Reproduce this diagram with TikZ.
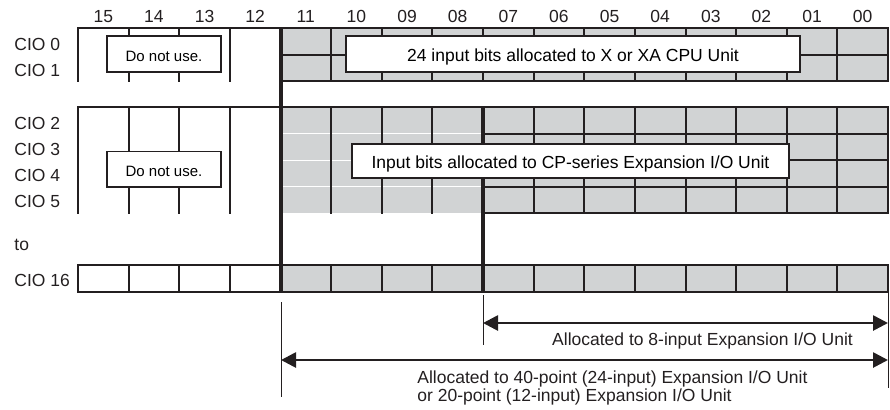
\documentclass[tikz,border=0pt]{standalone}
\usepackage{fontspec}
\setmainfont{Liberation Sans}
\usetikzlibrary{arrows.meta}
\definecolor{cellgray}{RGB}{209,211,212}
\definecolor{ink}{RGB}{35,31,32}
\tikzset{cell/.style={line width=1pt,draw=ink,line cap=rect},heavy/.style={line width=2pt,draw=ink},
txtbox/.style={draw=ink,line width=.7pt,fill=white,inner sep=0pt,text height=.72em,text depth=0pt},
ext/.style={line width=.5pt,draw=ink},
dim/.style={line width=1.35pt,draw=ink,{Triangle[length=7.5pt,width=7.5pt]}-{Triangle[length=7.5pt,width=7.5pt]}},
lbl/.style={inner sep=0pt,text=ink}}
\begin{document}
\begin{tikzpicture}[x=0.5pt,y=-0.5pt,font=\fontsize{8.75}{9}\selectfont]
\useasboundingbox(0,0)rectangle(890,409);
\foreach \b[count=\i from 0] in {15,14,13,12,11,10,09,08,07,06,05,04,03,02,01,00}
  \node[lbl,anchor=base](b\b)at({103.3+\i*50.625},22.7){\b};
% CIO 0 and 1
\fill[cellgray](280.5,28)rectangle(888,81);
\foreach \k in {0,...,16}\draw[cell]({78+\k*50.625},28)--({78+\k*50.625},81);
\draw[cell](78,28)--(888,28);\draw[cell](280.5,54.5)--(888,54.5);\draw[cell](280.5,81)--(888,81);
% CIO 2 to 5
\fill[cellgray](280.5,107)rectangle(888,213);
\foreach \y in {133.5,160,186.5}\draw[white,line width=.5pt](280.5,\y)--(483,\y);
\foreach \k in {0,...,16}\draw[cell]({78+\k*50.625},107)--({78+\k*50.625},213);
\foreach \y in {107,133.5,160,186.5,213}\draw[cell](483,\y)--(888,\y);
\draw[cell](78,107)--(483,107);
% CIO 16
\fill[cellgray](280.5,265)rectangle(888,291.5);
\foreach \k in {0,...,16}\draw[cell]({78+\k*50.625},265)--({78+\k*50.625},291.5);
\draw[cell](78,265)--(888,265);\draw[cell](78,291.5)--(888,291.5);
\draw[heavy](280.5,28)--(280.5,291.5);\draw[heavy](483,107)--(483,291.5);
\node[txtbox,minimum width=57pt,minimum height=18pt,font=\fontsize{7.5}{9}\selectfont](dnu0)at(164,54){Do not use.};
\node[txtbox,minimum width=227pt,minimum height=18pt](cpu)at(573,54){24 input bits allocated to X or XA CPU Unit};
\node[txtbox,minimum width=57pt,minimum height=17.75pt,font=\fontsize{7.5}{9}\selectfont](dnu2)at(164,169.25){Do not use.};
\node[txtbox,minimum width=218.5pt,minimum height=17pt](exp)at(570.5,161){Input bits allocated to CP-series Expansion I/O Unit};
\node[lbl,anchor=base west](c0)at(14,50){CIO 0};\node[lbl,anchor=base west](c1)at(14,76){CIO 1};
\node[lbl,anchor=base west](c2)at(14,129){CIO 2};\node[lbl,anchor=base west](c3)at(14,155){CIO 3};
\node[lbl,anchor=base west](c4)at(14,181.5){CIO 4};\node[lbl,anchor=base west](c5)at(14,207.5){CIO 5};
\node[lbl,anchor=base west](to)at(14,250){to};\node[lbl,anchor=base west](c16)at(14,286.5){CIO 16};
% allocation ranges
\coordinate(l0)at(281,302);\coordinate(l1)at(281,397);\coordinate(m0)at(483,295);\coordinate(m1)at(483,345);
\coordinate(r0)at(888,293);\coordinate(r1)at(888,388);
\draw[ext](l0)--(l1);\draw[ext](m0)--(m1);\draw[ext](r0)--(r1);
\coordinate(a8l)at(483,323);\coordinate(a8r)at(888,323);\draw[dim](a8l)--(a8r);
\coordinate(a40l)at(281,360);\coordinate(a40r)at(888,360);\draw[dim](a40l)--(a40r);
\node[lbl,anchor=base](al8)at(702.5,345){Allocated to 8-input Expansion I/O Unit};
\node[lbl,anchor=base west,align=left](al40)at(417,401){Allocated to 40-point (24-input) Expansion I/O Unit\\or 20-point (12-input) Expansion I/O Unit};
\end{tikzpicture}
\end{document}
